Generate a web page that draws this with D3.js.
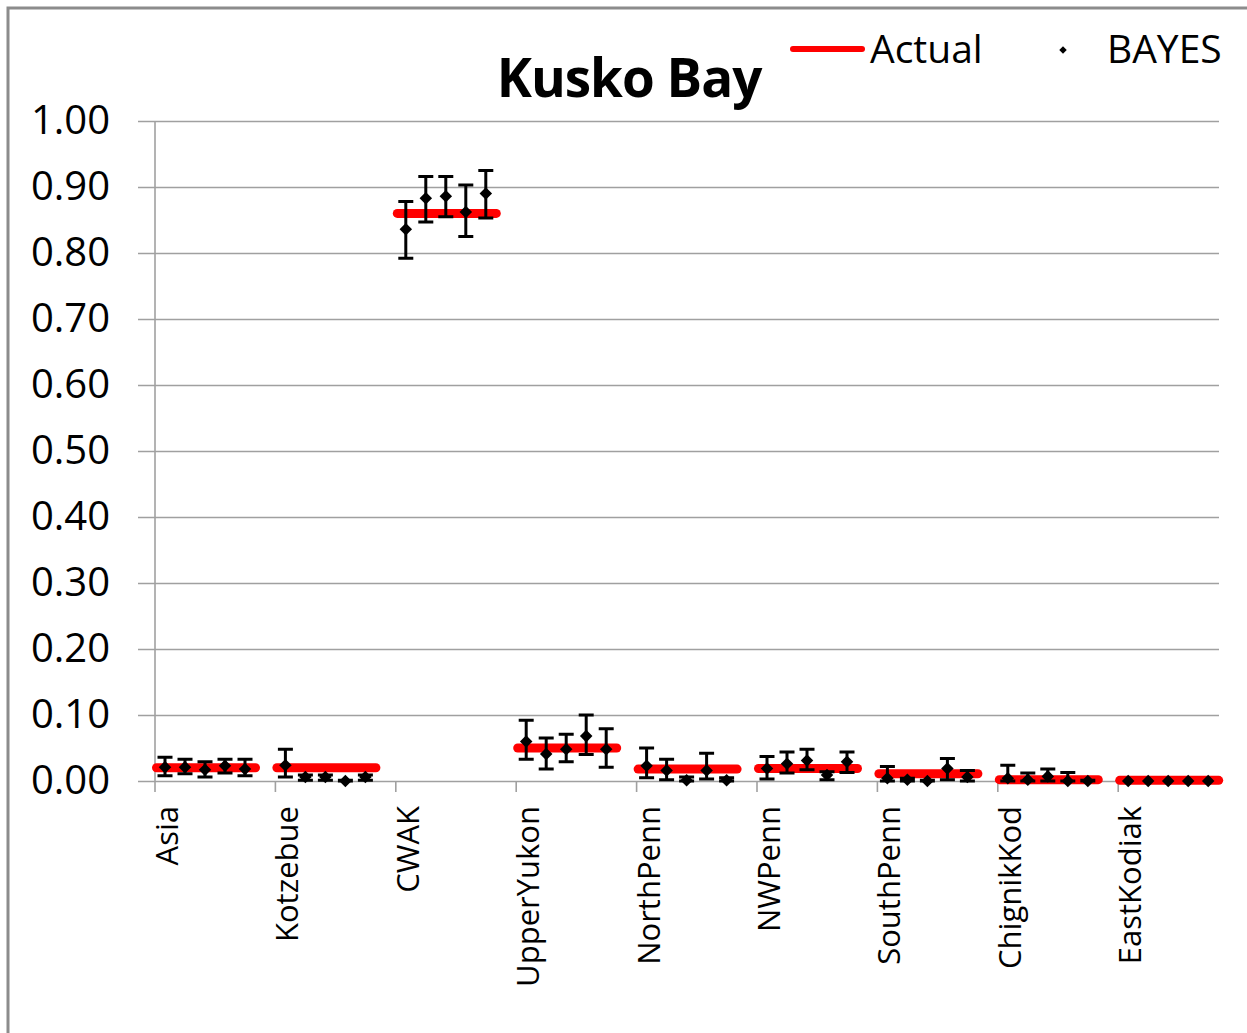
<!DOCTYPE html>
<html>
<head>
<meta charset="utf-8">
<script src="https://cdn.jsdelivr.net/npm/d3@7"></script>
<style>
  body { margin: 0; background: #fff; }
  text { font-family: "Open Sans", sans-serif; fill: #000; }
</style>
</head>
<body>
<div id="chart"></div>
<script>
// populations along the x axis
var categories = ['Asia', 'Kotzebue', 'CWAK', 'UpperYukon', 'NorthPenn', 'NWPenn', 'SouthPenn', 'ChignikKod', 'EastKodiak'];
// true proportion per population
var actual = [0.020, 0.020, 0.860, 0.050, 0.018, 0.019, 0.011, 0.002, 0.001];
// five BAYES estimates per population, with interval bounds
var bayesMean = [
  [0.021, 0.021, 0.017, 0.023, 0.018],
  [0.024, 0.006, 0.006, 0.000, 0.006],
  [0.836, 0.883, 0.886, 0.862, 0.890],
  [0.060, 0.041, 0.048, 0.068, 0.048],
  [0.023, 0.016, 0.001, 0.016, 0.001],
  [0.019, 0.026, 0.031, 0.009, 0.029],
  [0.004, 0.002, 0.000, 0.019, 0.006],
  [0.004, 0.002, 0.007, 0.000, 0.000],
  [0.000, 0.000, 0.000, 0.000, 0.000]
];
var bayesLow = [
  [0.008, 0.011, 0.006, 0.012, 0.008],
  [0.006, 0.001, 0.001, 0.000, 0.001],
  [0.792, 0.847, 0.855, 0.825, 0.853],
  [0.033, 0.018, 0.029, 0.040, 0.021],
  [0.005, 0.002, 0.000, 0.003, 0.000],
  [0.003, 0.012, 0.017, 0.002, 0.013],
  [0.000, 0.000, 0.000, 0.002, 0.000],
  [0.000, 0.000, 0.000, 0.000, 0.000],
  [0.000, 0.000, 0.000, 0.000, 0.000]
];
var bayesHigh = [
  [0.036, 0.033, 0.029, 0.033, 0.033],
  [0.048, 0.009, 0.009, 0.001, 0.009],
  [0.878, 0.916, 0.916, 0.903, 0.925],
  [0.092, 0.065, 0.071, 0.100, 0.079],
  [0.050, 0.033, 0.006, 0.042, 0.005],
  [0.037, 0.044, 0.048, 0.014, 0.044],
  [0.022, 0.004, 0.001, 0.034, 0.016],
  [0.024, 0.012, 0.018, 0.013, 0.001],
  [0.000, 0.000, 0.000, 0.000, 0.000]
];
var yTicks = [0, 0.1, 0.2, 0.3, 0.4, 0.5, 0.6, 0.7, 0.8, 0.9, 1.0];

var width = 1247, height = 1033;
var plotLeft = 155, plotRight = 1219, plotTop = 121, plotBottom = 781;
var band = 120.4;

var svg = d3.select('#chart').append('svg')
  .attr('width', width)
  .attr('height', height);

// chart frame
svg.append('rect')
  .attr('x', 8).attr('y', 8)
  .attr('width', width + 20).attr('height', height + 20)
  .attr('fill', '#fff')
  .attr('stroke', '#8c8c8c')
  .attr('stroke-width', 3);

var y = d3.scaleLinear().domain([0, 1]).range([plotBottom, plotTop]);
var x = d3.scaleBand().domain(categories)
  .range([plotLeft, plotLeft + band * categories.length]).padding(0);
var inner = d3.scalePoint().domain(d3.range(5)).range([10, 90]);

// gridlines + y labels
var yAxis = svg.append('g')
  .attr('transform', 'translate(138,0)')
  .call(d3.axisLeft(y)
    .tickValues(yTicks)
    .tickFormat(d3.format('.2f'))
    .tickSize(-(plotRight - 138))
    .tickPadding(28));
yAxis.select('.domain').remove();
yAxis.selectAll('.tick line').attr('stroke', '#a0a0a0').attr('stroke-width', 1.6);
yAxis.selectAll('.tick text')
  .style('font-size', '40px')
  .style('font-family', '"Open Sans", sans-serif');

// y axis line
svg.append('line')
  .attr('x1', plotLeft).attr('x2', plotLeft)
  .attr('y1', plotTop).attr('y2', plotBottom + 11)
  .attr('stroke', '#a0a0a0').attr('stroke-width', 1.6);

// x ticks at band edges
svg.selectAll('.xtick')
  .data(categories.slice(1))
  .enter().append('line')
  .attr('class', 'xtick')
  .attr('x1', function(d) { return x(d); })
  .attr('x2', function(d) { return x(d); })
  .attr('y1', plotBottom).attr('y2', plotBottom + 11)
  .attr('stroke', '#a0a0a0').attr('stroke-width', 1.6);

// category labels
svg.selectAll('.xlabel')
  .data(categories)
  .enter().append('text')
  .attr('class', 'xlabel')
  .attr('transform', function(d) {
    return 'translate(' + (x(d) + 23) + ',' + (plotBottom + 25) + ') rotate(-90)';
  })
  .attr('text-anchor', 'end')
  .style('font-size', '31px')
  .text(function(d) { return d; });

// actual lines
svg.selectAll('.actual')
  .data(categories)
  .enter().append('line')
  .attr('class', 'actual')
  .attr('x1', function(d) { return x(d) + 1.5; })
  .attr('x2', function(d) { return x(d) + 100.5; })
  .attr('y1', function(d, i) { return y(actual[i]); })
  .attr('y2', function(d, i) { return y(actual[i]); })
  .attr('stroke', '#ff0000')
  .attr('stroke-width', 9)
  .attr('stroke-linecap', 'round');

// BAYES points with error bars
var pts = [];
categories.forEach(function(c, ci) {
  bayesMean[ci].forEach(function(m, k) {
    pts.push({ c: c, k: k, m: m, lo: bayesLow[ci][k], hi: bayesHigh[ci][k] });
  });
});

var g = svg.selectAll('.pt')
  .data(pts)
  .enter().append('g')
  .attr('class', 'pt')
  .attr('transform', function(d) { return 'translate(' + (x(d.c) + inner(d.k)) + ',0)'; });

var cap = 7.5;
g.filter(function(d) { return d.hi > d.lo; })
  .append('path')
  .attr('d', function(d) {
    return 'M0,' + y(d.lo) + 'V' + y(d.hi) +
      'M' + (-cap) + ',' + y(d.hi) + 'H' + cap +
      'M' + (-cap) + ',' + y(d.lo) + 'H' + cap;
  })
  .attr('fill', 'none')
  .attr('stroke', '#000')
  .attr('stroke-width', 3);

g.append('path')
  .attr('d', d3.symbol().type(d3.symbolDiamond2).size(100))
  .attr('transform', function(d) { return 'translate(0,' + y(d.m) + ')'; })
  .attr('fill', '#000');

// title
svg.append('text')
  .attr('x', 629).attr('y', 97)
  .attr('text-anchor', 'middle')
  .style('font-size', '53px')
  .style('font-weight', 'bold')
  .style('letter-spacing', '-1px')
  .text('Kusko Bay');

// legend
svg.append('line')
  .attr('x1', 793).attr('x2', 862)
  .attr('y1', 49).attr('y2', 49)
  .attr('stroke', '#ff0000')
  .attr('stroke-width', 6)
  .attr('stroke-linecap', 'round');
svg.append('text')
  .attr('x', 870).attr('y', 63)
  .style('font-size', '39px')
  .text('Actual');
svg.append('path')
  .attr('d', d3.symbol().type(d3.symbolDiamond2).size(36))
  .attr('transform', 'translate(1063,50)')
  .attr('fill', '#000');
svg.append('text')
  .attr('x', 1107).attr('y', 63)
  .style('font-size', '39px')
  .text('BAYES');
</script>
</body>
</html>
